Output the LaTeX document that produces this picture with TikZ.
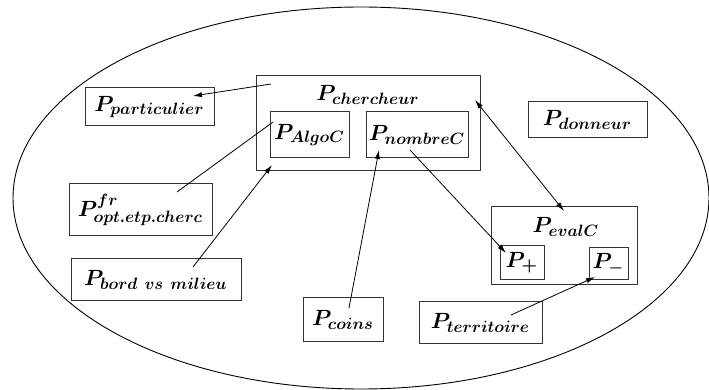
\documentclass[tikz,border=0pt]{standalone}
\usepackage{fix-cm}
\usetikzlibrary{arrows.meta,shapes.geometric}
\DeclareMathSizes{11}{11}{8.2}{6.3}
\begin{document}
\begin{tikzpicture}[x=0.5pt,y=-0.5pt,
  box/.style={draw=black!80, line width=0.5pt, inner sep=0pt, font=\fontsize{11}{13}\selectfont\boldmath},
  lbl/.style={inner sep=0pt, font=\fontsize{11}{13}\selectfont\boldmath},
  conn/.style={line width=0.4pt, black},
  tip/.tip={Latex[length=4.5pt,width=2.6pt]},
  arr/.style={conn,-tip},
  darr/.style={conn,tip-tip}]
\useasboundingbox (0,0) rectangle (709,390);
% outer ellipse
\node[draw, line width=0.45pt, ellipse, minimum width=348pt, minimum height=191pt, inner sep=0pt] (world) at (361,198) {};
% boxes
\node[box, minimum width=64.5pt, minimum height=19pt] (part) at (149.5,107) {$P_{particulier}$};
\node[box, minimum width=112pt, minimum height=47.5pt] (cherch) at (368,123.5) {};
\node[lbl] (cherchlbl) at (368,95) {$P_{chercheur}$};
\node[box, minimum width=39.5pt, minimum height=23pt] (algo) at (309.5,135) {$P_{AlgoC}$};
\node[box, minimum width=51pt, minimum height=23pt] (nombre) at (417,135) {$P_{nombreC}$};
\node[box, minimum width=59.5pt, minimum height=18pt] (donneur) at (587.5,120) {$P_{donneur}$};
\node[box, minimum width=73pt, minimum height=39pt] (eval) at (564,246) {};
\node[lbl] (evallbl) at (566,227) {$P_{evalC}$};
\node[box, minimum width=22pt, minimum height=17pt] (plus) at (522,263) {$P_{+}$};
\node[box, minimum width=19.5pt, minimum height=16pt] (minus) at (608.5,264) {$P_{-}$};
\node[box, minimum width=71.5pt, minimum height=26pt] (opt) at (140.5,210) {$P^{fr}_{opt.etp.cherc}$};
\node[box, minimum width=85pt, minimum height=21pt] (bord) at (156,280) {$P_{bord\ vs\ milieu}$};
\node[box, minimum width=40pt, minimum height=22pt] (coins) at (343,320) {$P_{coins}$};
\node[box, minimum width=61.5pt, minimum height=21pt] (terr) at (480.5,323) {$P_{territoire}$};
% connector end points
\coordinate (c1s) at (271,84);   \coordinate (c1e) at (193,96);
\coordinate (c2s) at (177,192);  \coordinate (c2e) at (273,122);
\coordinate (c3s) at (193,267);  \coordinate (c3e) at (272,165);
\coordinate (c4s) at (349,308);  \coordinate (c4e) at (379,150);
\coordinate (c5s) at (410,150);  \coordinate (c5e) at (506,253);
\coordinate (c6s) at (475,100);  \coordinate (c6e) at (564,211);
\coordinate (c7s) at (511,315);  \coordinate (c7e) at (595,277);
% connectors
\draw[arr] (c1s) -- (c1e);
\draw[conn] (c2s) -- (c2e);
\draw[arr] (c3s) -- (c3e);
\draw[arr] (c4s) -- (c4e);
\draw[arr] (c5s) -- (c5e);
\draw[darr] (c6s) -- (c6e);
\draw[arr] (c7s) -- (c7e);
\end{tikzpicture}
\end{document}
